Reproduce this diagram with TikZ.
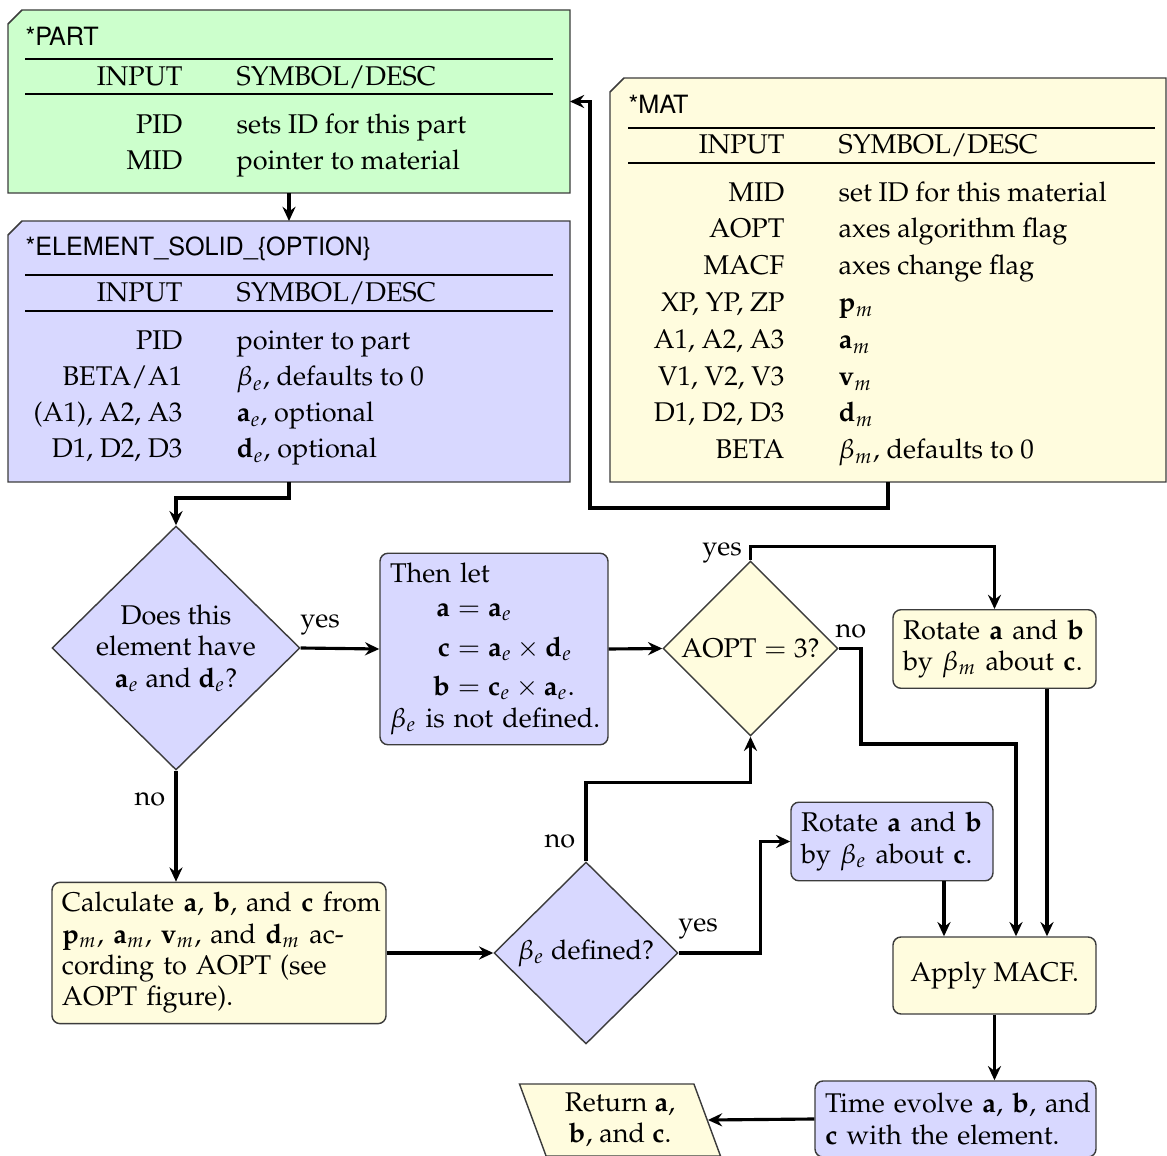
\documentclass[tikz,border=0pt]{standalone}
\usepackage[T1]{fontenc}
\usepackage{mathpazo}
\usepackage[scaled=0.93]{helvet}
\usetikzlibrary{arrows.meta,shapes.geometric,calc}
\newdimen\pxd
\pxd=0.3509pt
\definecolor{cgreen}{RGB}{204,255,204}
\definecolor{cblue}{RGB}{216,216,255}
\definecolor{cyellow}{RGB}{255,252,222}
\definecolor{cborder}{RGB}{60,60,60}
\tikzset{
  every node/.style={font=\fontsize{9.5}{11}\selectfont},
  card/.style={draw=cborder, line width=0.5pt},
  boxarea/.style={rectangle, inner sep=0pt, outer sep=0pt},
  ttl/.style={anchor=base west, inner sep=0pt, font=\sffamily\fontsize{9.5}{11}\selectfont},
  lc/.style={anchor=base east, inner sep=0pt},
  rc/.style={anchor=base west, inner sep=0pt},
  tabrule/.style={line width=0.95pt},
  proc/.style={rectangle, rounded corners=8*\pxd, draw=cborder, line width=0.5pt, inner sep=10*\pxd, align=left},
  dec/.style={diamond, aspect=1, draw=cborder, line width=0.5pt, inner sep=0pt},
  flow/.style={line width=1.1pt, -{Stealth[length=5pt,width=4.6pt,inset=1.7pt]}},
  lbl/.style={inner sep=0pt},
}
\begin{document}
\begin{tikzpicture}[x={(0.3509pt,0)},y={(0,-0.3509pt)}]
\useasboundingbox (0,0) rectangle (1167,1156);

% ---------- *PART ----------
\node[boxarea, minimum width=562*\pxd, minimum height=183*\pxd] (part) at (289,101.5) {};
\draw[card, fill=cgreen] ($(part.north west)+(0,14)$) -- ($(part.north west)+(14,0)$) -- (part.north east) -- (part.south east) -- (part.south west) -- cycle;
\node[ttl] (partT) at (25,46) {*PART};
\draw[tabrule] (25,59) -- (553,59);
\draw[tabrule] (25,94) -- (553,94);
\node[lc] (pH1) at (183,86) {INPUT};
\node[rc] (pH2) at (236,86) {SYMBOL/DESC};
\node[lc] (pa1) at (183,134) {PID};
\node[rc] (pb1) at (236,134) {sets ID for this part};
\node[lc] (pa2) at (183,170) {MID};
\node[rc] (pb2) at (236,170) {pointer to material};

% ---------- *ELEMENT ----------
\node[boxarea, minimum width=562*\pxd, minimum height=261*\pxd] (elem) at (289,351.5) {};
\draw[card, fill=cblue] ($(elem.north west)+(0,14)$) -- ($(elem.north west)+(14,0)$) -- (elem.north east) -- (elem.south east) -- (elem.south west) -- cycle;
\node[ttl] (elemT) at (25,256) {*ELEMENT\_SOLID\_\{OPTION\}};
\draw[tabrule] (25,275) -- (553,275);
\draw[tabrule] (25,311) -- (553,311);
\node[lc] (eH1) at (183,302) {INPUT};
\node[rc] (eH2) at (236,302) {SYMBOL/DESC};
\node[lc] (ea1) at (183,350) {PID};
\node[rc] (eb1) at (236,350) {pointer to part};
\node[lc] (ea2) at (183,386) {BETA/A1};
\node[rc] (eb2) at (236,386) {$\beta_e$, defaults to 0};
\node[lc] (ea3) at (183,422) {(A1), A2, A3};
\node[rc] (eb3) at (236,422) {$\mathbf{a}_e$, optional};
\node[lc] (ea4) at (183,458) {D1, D2, D3};
\node[rc] (eb4) at (236,458) {$\mathbf{d}_e$, optional};

% ---------- *MAT ----------
\node[boxarea, minimum width=556*\pxd, minimum height=404*\pxd] (mat) at (888,280) {};
\draw[card, fill=cyellow] ($(mat.north west)+(0,14)$) -- ($(mat.north west)+(14,0)$) -- (mat.north east) -- (mat.south east) -- (mat.south west) -- cycle;
\node[ttl] (matT) at (628,114) {*MAT};
\draw[tabrule] (628,128) -- (1155,128);
\draw[tabrule] (628,163) -- (1155,163);
\node[lc] (mH1) at (785,154) {INPUT};
\node[rc] (mH2) at (838,154) {SYMBOL/DESC};
\node[lc] (ma1) at (785,202) {MID};
\node[rc] (mb1) at (838,202) {set ID for this material};
\node[lc] (ma2) at (785,238) {AOPT};
\node[rc] (mb2) at (838,238) {axes algorithm flag};
\node[lc] (ma3) at (785,275) {MACF};
\node[rc] (mb3) at (838,275) {axes change flag};
\node[lc] (ma4) at (785,312) {XP, YP, ZP};
\node[rc] (mb4) at (838,312) {$\mathbf{p}_m$};
\node[lc] (ma5) at (785,349) {A1, A2, A3};
\node[rc] (mb5) at (838,349) {$\mathbf{a}_m$};
\node[lc] (ma6) at (785,386) {V1, V2, V3};
\node[rc] (mb6) at (838,386) {$\mathbf{v}_m$};
\node[lc] (ma7) at (785,422) {D1, D2, D3};
\node[rc] (mb7) at (838,422) {$\mathbf{d}_m$};
\node[lc] (ma8) at (785,459) {BETA};
\node[rc] (mb8) at (838,459) {$\beta_m$, defaults to 0};

% ---------- flowchart ----------
\node[dec, fill=cblue, minimum width=248*\pxd, minimum height=244*\pxd] (d1) at (176,648) {};
\node[align=center, inner sep=0pt] (d1t) at (176,648) {Does this\\element have\\$\mathbf{a}_e$ and $\mathbf{d}_e$?};

\node[proc, fill=cblue, minimum width=228*\pxd, minimum height=190*\pxd, text width=208*\pxd] (thenlet) at (494,649)
 {\mbox{Then let}\\[3pt]
 \mbox{\hspace*{43\pxd}$\begin{array}{@{}r@{{}={}}l@{}}
 \mathbf{a} & \mathbf{a}_e\\[2.8pt]
 \mathbf{c} & \mathbf{a}_e\times\mathbf{d}_e\\[2.8pt]
 \mathbf{b} & \mathbf{c}_e\times\mathbf{a}_e.
 \end{array}$}\\
 \mbox{$\beta_e$ is not defined.}};

\node[dec, fill=cyellow, minimum width=175*\pxd, minimum height=175*\pxd] (aopt) at (750.5,648.5) {AOPT${}={}$3?};

\node[proc, fill=cyellow, minimum width=203*\pxd, minimum height=78*\pxd, text width=183*\pxd] (rotm) at (994.5,649)
 {\mbox{Rotate $\mathbf{a}$ and $\mathbf{b}$}\\\mbox{by $\beta_m$ about $\mathbf{c}$.}};

\node[proc, fill=cyellow, minimum width=334*\pxd, minimum height=138*\pxd, text width=314*\pxd] (calc) at (219,953)
 {\mbox{Calculate $\mathbf{a}$, $\mathbf{b}$, and $\mathbf{c}$ from}\\
 \mbox{$\mathbf{p}_m$, $\mathbf{a}_m$, $\mathbf{v}_m$, and $\mathbf{d}_m$ ac-}\\
 \mbox{cording to AOPT (see}\\
 \mbox{AOPT figure).}};

\node[dec, fill=cblue, minimum width=184*\pxd, minimum height=182*\pxd] (bdef) at (586,953) {$\beta_e$ defined?};

\node[proc, fill=cblue, minimum width=202*\pxd, minimum height=77*\pxd, text width=182*\pxd] (rote) at (892,841.5)
 {\mbox{Rotate $\mathbf{a}$ and $\mathbf{b}$}\\\mbox{by $\beta_e$ about $\mathbf{c}$.}};

\node[proc, fill=cyellow, minimum width=203*\pxd, minimum height=77*\pxd, align=center] (macf) at (994.5,975.5) {Apply MACF.};

\node[proc, fill=cblue, minimum width=281*\pxd, minimum height=76*\pxd, text width=261*\pxd] (timeev) at (955.5,1119)
 {\mbox{Time evolve $\mathbf{a}$, $\mathbf{b}$, and}\\\mbox{$\mathbf{c}$ with the element.}};

\node[trapezium, trapezium left angle=110, trapezium right angle=70, trapezium stretches=true,
      draw=cborder, line width=0.5pt, fill=cyellow, inner sep=0pt,
      minimum width=202*\pxd, minimum height=72*\pxd, align=center] (ret) at (620,1120)
 {Return $\mathbf{a}$,\\$\mathbf{b}$, and $\mathbf{c}$.};

% ---------- connectors ----------
\coordinate (matturn) at (590,508);
\coordinate (noA) at (861,744);
\coordinate (noB) at (1016,744);
\path ($(rotm.south)+(52.5,0)$) coordinate (rmo);
\path ($(rote.south)+(52,0)$) coordinate (reo);

\draw[flow] (part.south) -- (elem.north);
\draw[flow] (mat.south) |- (matturn) |- (part.east);
\draw[flow] (elem.south) -- ++(0,16) -| (d1.north);
\draw[flow] (d1.east) -- (thenlet.west);
\draw[flow] (d1.south) -- (d1.south |- calc.north);
\draw[flow] (thenlet.east) -- (aopt.west);
\draw[flow] (aopt.north) -- ++(0,-14) -| (rotm.north);
\draw[flow] (aopt.east) -| (noA) -- (noB) -- (noB |- macf.north);
\draw[flow] (rmo) -- (rmo |- macf.north);
\draw[flow] (calc.east) -- (bdef.west);
\draw[flow] (bdef.north) -- ++(0,-79) -| (aopt.south);
\draw[flow] (bdef.east) -- ++(82,0) |- (rote.west);
\draw[flow] (reo) -- (reo |- macf.north);
\draw[flow] (macf.south) -- (macf.south |- timeev.north);
\draw[flow] (timeev.west) -- (ret.east);

% ---------- labels ----------
\node[lbl] (yes1) at (320,625) {yes};
\node[lbl] (no1) at (150,799) {no};
\node[lbl] (yes2) at (722,553) {yes};
\node[lbl] (no2) at (851,631) {no};
\node[lbl] (no3) at (560,841) {no};
\node[lbl] (yes3) at (698,929) {yes};
\end{tikzpicture}
\end{document}
